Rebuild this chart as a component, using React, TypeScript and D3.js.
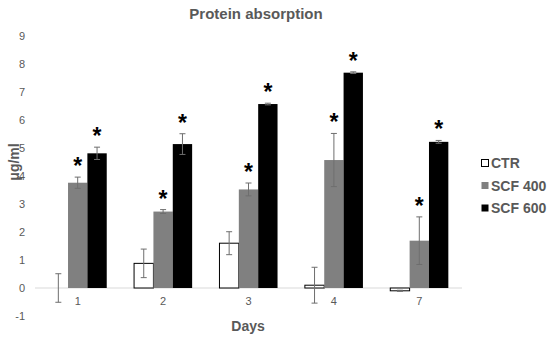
import { scaleBand, scaleLinear } from "d3";

const days = ["1", "2", "3", "4", "7"];
const seriesNames = ["CTR", "SCF 400", "SCF 600"];
const ctrValues = [0, 0.88, 1.6, 0.1, -0.1];
const ctrErrors = [0.51, 0.51, 0.41, 0.64, 0.02];
const scf400Values = [3.76, 2.73, 3.52, 4.57, 1.69];
const scf400Errors = [0.2, 0.07, 0.23, 0.95, 0.85];
const scf600Values = [4.81, 5.14, 6.57, 7.69, 5.22];
const scf600Errors = [0.22, 0.37, 0.03, 0.03, 0.05];
const significant = [
  [false, true, true],
  [false, true, true],
  [false, true, true],
  [false, true, true],
  [false, true, true]
];
const yTicks = [-1, 0, 1, 2, 3, 4, 5, 6, 7, 8, 9];

const width = 550;
const height = 338;
const plotLeft = 35;
const plotRight = 462;
const textColor = "#595959";
const fills = ["#ffffff", "#808080", "#000000"];
const fontFamily = "Arial, 'Liberation Sans', sans-serif";

export default function App() {
  const x = scaleBand<string>()
    .domain(days)
    .range([plotLeft, plotRight])
    .paddingInner(0.32)
    .paddingOuter(0.16);
  const xInner = scaleBand<string>()
    .domain(seriesNames)
    .range([0, x.bandwidth()]);
  const y = scaleLinear().domain([-1, 9]).range([316, 36]);

  const values = [ctrValues, scf400Values, scf600Values];
  const errors = [ctrErrors, scf400Errors, scf600Errors];

  return (
    <svg
      width={width}
      height={height}
      style={{ position: "absolute", left: 0, top: 0, background: "#fff" }}
      fontFamily={fontFamily}
    >
      <text
        x={256}
        y={19}
        textAnchor="middle"
        fontSize={15}
        fontWeight="bold"
        fill={textColor}
      >
        Protein absorption
      </text>
      {yTicks.map((t) => (
        <text
          key={`yt-${t}`}
          x={25}
          y={y(t)}
          textAnchor="end"
          dominantBaseline="central"
          fontSize={11}
          fill={textColor}
        >
          {t}
        </text>
      ))}
      <line
        x1={plotLeft}
        x2={plotRight}
        y1={y(0)}
        y2={y(0)}
        stroke="#d9d9d9"
        strokeWidth={1}
      />
      {days.map((day, di) => {
        const gx = x(day) ?? 0;
        return (
          <g key={`g-${day}`}>
            {seriesNames.map((name, si) => {
              const v = values[si][di];
              const bx = gx + (xInner(name) ?? 0);
              const bw = xInner.bandwidth();
              const top = Math.min(y(v), y(0));
              const h = Math.abs(y(v) - y(0));
              return (
                <rect
                  key={`b-${day}-${name}`}
                  x={bx}
                  y={top}
                  width={bw}
                  height={h}
                  fill={fills[si]}
                  stroke={si === 0 ? "#000" : "none"}
                  strokeWidth={1}
                />
              );
            })}
            {seriesNames.map((name, si) => {
              const v = values[si][di];
              const e = errors[si][di];
              const cx = gx + (xInner(name) ?? 0) + xInner.bandwidth() / 2;
              return (
                <g key={`e-${day}-${name}`} stroke="#6e6e6e" strokeWidth={1}>
                  <line x1={cx} x2={cx} y1={y(v + e)} y2={y(v - e)} />
                  <line x1={cx - 3} x2={cx + 3} y1={y(v + e)} y2={y(v + e)} />
                  <line x1={cx - 3} x2={cx + 3} y1={y(v - e)} y2={y(v - e)} />
                </g>
              );
            })}
            {seriesNames.map((name, si) => {
              if (!significant[di][si]) {
                return null;
              }
              const v = values[si][di];
              const e = errors[si][di];
              const cx = gx + (xInner(name) ?? 0) + xInner.bandwidth() / 2;
              return (
                <text
                  key={`s-${day}-${name}`}
                  x={cx}
                  y={y(v + e) - 3}
                  textAnchor="middle"
                  fontSize={23}
                  fontWeight="bold"
                  fill="#000"
                >
                  *
                </text>
              );
            })}
            <text
              x={gx + x.bandwidth() / 2}
              y={301}
              textAnchor="middle"
              dominantBaseline="central"
              fontSize={11}
              fill={textColor}
            >
              {day}
            </text>
          </g>
        );
      })}
      <text
        transform={`translate(19, ${y(4.5)}) rotate(-90)`}
        textAnchor="middle"
        fontSize={14}
        fontWeight="bold"
        fill={textColor}
      >
        μg/ml
      </text>
      <text
        x={248}
        y={331}
        textAnchor="middle"
        fontSize={14}
        fontWeight="bold"
        fill={textColor}
      >
        Days
      </text>
      {seriesNames.map((name, si) => (
        <g key={`lg-${name}`} transform={`translate(481, ${163 + si * 22.5})`}>
          <rect
            x={0.5}
            y={-3.5}
            width={7}
            height={7}
            fill={fills[si]}
            stroke={si === 0 ? "#000" : "none"}
          />
          <text
            x={10}
            y={0}
            dominantBaseline="central"
            fontSize={14}
            fontWeight="bold"
            fill={textColor}
          >
            {name}
          </text>
        </g>
      ))}
    </svg>
  );
}
